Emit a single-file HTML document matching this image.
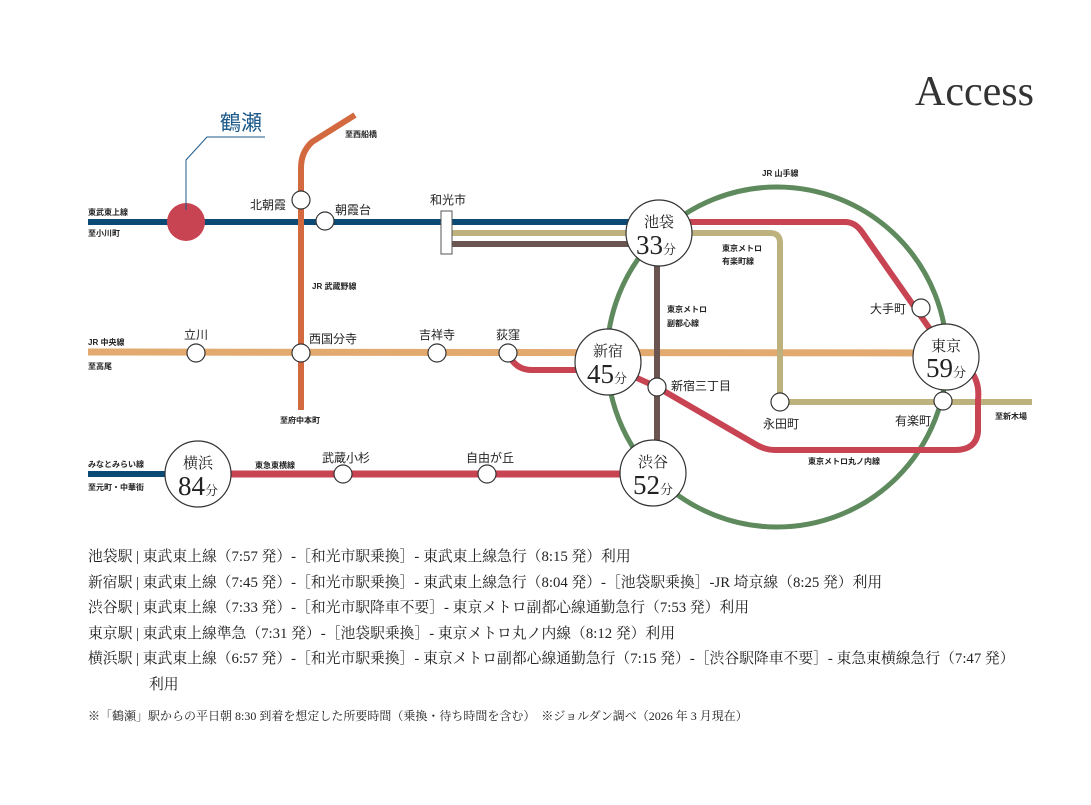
<!DOCTYPE html>
<html><head><meta charset="utf-8"><style>
body{margin:0;background:#fff;}
svg text{font-family:"Liberation Sans","Noto Sans CJK JP",sans-serif;fill:#222;}
svg .s text{font-size:8px;font-weight:bold;}
svg .m text{font-size:12px;}
svg .b text, svg text.b{font-family:"Liberation Serif","Noto Serif CJK SC",serif;}
svg .t text{font-size:14.8px;font-family:"Liberation Serif","Noto Serif CJK SC",serif;}
</style></head><body>
<svg width="1091" height="800" viewBox="0 0 1091 800" xmlns="http://www.w3.org/2000/svg">
<rect width="1091" height="800" fill="#fff"/>
<text x="915" y="105" class="b" style="font-size:42px;fill:#333">Access</text>
<circle cx="777" cy="357" r="170" fill="none" stroke="#5e8a5d" stroke-width="5"/>
<line x1="88" y1="352" x2="946" y2="353" stroke="#e3aa70" stroke-width="7"/>
<line x1="88" y1="222" x2="640" y2="222" stroke="#0b4a74" stroke-width="6"/>
<path d="M301 410 V168 Q301 152 312 142 L355 115" fill="none" stroke="#d2693f" stroke-width="6"/>
<path d="M452 233 H770 Q780 233 780 243 V402 H1032" fill="none" stroke="#bdb17e" stroke-width="6"/>
<path d="M452 244 H657 V470" fill="none" stroke="#6b5551" stroke-width="6"/>
<path d="M660 222 H845 Q855 222 862 232 L946 352 L970 370 Q980 382 978 400 V432 Q976 450 955 450 H775 Q765 450 755 444 L657 387 L608 365" fill="none" stroke="#c84452" stroke-width="6"/>
<path d="M508 353 Q515 370 532 370 H608" fill="none" stroke="#c84452" stroke-width="6"/>
<line x1="231" y1="474" x2="625" y2="474" stroke="#c84452" stroke-width="7"/>
<line x1="88" y1="474" x2="165" y2="474" stroke="#0b4a74" stroke-width="6"/>
<rect x="441" y="211" width="11" height="43" fill="#fff" stroke="#555" stroke-width="1"/>
<circle cx="186" cy="222" r="19" fill="#c84452"/>
<polyline points="186,210 186,160 207,137 265,137" fill="none" stroke="#1d5a8a" stroke-width="1"/>
<text x="220" y="130" style="font-size:21px;fill:#1d5a8a">鶴瀬</text>
<g fill="#fff" stroke="#333" stroke-width="1.2">
<circle cx="301" cy="200" r="9"/><circle cx="325" cy="221" r="9"/>
<circle cx="196" cy="353" r="9"/><circle cx="301" cy="353" r="9"/>
<circle cx="437" cy="353" r="9"/><circle cx="508" cy="353" r="9"/>
<circle cx="657" cy="387" r="9"/><circle cx="780" cy="402" r="9"/>
<circle cx="943" cy="401" r="9"/><circle cx="921" cy="308" r="9"/>
<circle cx="343" cy="474" r="9"/><circle cx="487" cy="474" r="9"/>
<circle cx="659" cy="233" r="33"/><circle cx="608" cy="362" r="33"/>
<circle cx="946" cy="357" r="33"/><circle cx="653" cy="473" r="33"/>
<circle cx="198" cy="474" r="33"/>
</g>
<g class="b" text-anchor="middle">
<text x="659" y="227" style="font-size:15px">池袋</text><text x="656" y="254" style="font-size:27px">33<tspan style="font-size:13px">分</tspan></text>
<text x="608" y="356" style="font-size:15px">新宿</text><text x="607" y="383" style="font-size:27px">45<tspan style="font-size:13px">分</tspan></text>
<text x="946" y="351" style="font-size:15px">東京</text><text x="946" y="377" style="font-size:27px">59<tspan style="font-size:13px">分</tspan></text>
<text x="653" y="467" style="font-size:15px">渋谷</text><text x="653" y="494" style="font-size:27px">52<tspan style="font-size:13px">分</tspan></text>
<text x="198" y="468" style="font-size:15px">横浜</text><text x="198" y="495" style="font-size:27px">84<tspan style="font-size:13px">分</tspan></text>
</g>
<g class="m">
<text x="250" y="209">北朝霞</text><text x="335" y="214">朝霞台</text><text x="430" y="204">和光市</text>
<text x="184" y="339">立川</text><text x="309" y="343">西国分寺</text><text x="419" y="339">吉祥寺</text><text x="496" y="339">荻窪</text>
<text x="671" y="390">新宿三丁目</text><text x="763" y="428">永田町</text><text x="895" y="425">有楽町</text><text x="870" y="313">大手町</text>
<text x="322" y="462">武蔵小杉</text><text x="466" y="462">自由が丘</text>
</g>
<g class="s">
<text x="88" y="215">東武東上線</text><text x="88" y="236">至小川町</text>
<text x="345" y="137">至西船橋</text><text x="312" y="289">JR 武蔵野線</text>
<text x="88" y="345">JR 中央線</text><text x="88" y="369">至高尾</text>
<text x="280" y="423">至府中本町</text>
<text x="88" y="467">みなとみらい線</text><text x="88" y="490">至元町・中華街</text>
<text x="255" y="468">東急東横線</text>
<text x="762" y="176">JR 山手線</text>
<text x="722" y="251">東京メトロ</text><text x="722" y="264">有楽町線</text>
<text x="667" y="312">東京メトロ</text><text x="667" y="326">副都心線</text>
<text x="808" y="464">東京メトロ丸ノ内線</text>
<text x="995" y="419">至新木場</text>
</g>
<g class="t">
<text x="88" y="561">池袋駅 | 東武東上線（7:57 発）-［和光市駅乗換］- 東武東上線急行（8:15 発）利用</text>
<text x="88" y="587">新宿駅 | 東武東上線（7:45 発）-［和光市駅乗換］- 東武東上線急行（8:04 発）-［池袋駅乗換］-JR 埼京線（8:25 発）利用</text>
<text x="88" y="612">渋谷駅 | 東武東上線（7:33 発）-［和光市駅降車不要］- 東京メトロ副都心線通勤急行（7:53 発）利用</text>
<text x="88" y="638">東京駅 | 東武東上線準急（7:31 発）-［池袋駅乗換］- 東京メトロ丸ノ内線（8:12 発）利用</text>
<text x="88" y="663">横浜駅 | 東武東上線（6:57 発）-［和光市駅乗換］- 東京メトロ副都心線通勤急行（7:15 発）-［渋谷駅降車不要］- 東急東横線急行（7:47 発）</text>
<text x="149" y="689">利用</text>
<text x="88" y="720" style="font-size:12px">※「鶴瀬」駅からの平日朝 8:30 到着を想定した所要時間（乗換・待ち時間を含む）　※ジョルダン調べ（2026 年 3 月現在）</text>
</g>
</svg>
</body></html>
